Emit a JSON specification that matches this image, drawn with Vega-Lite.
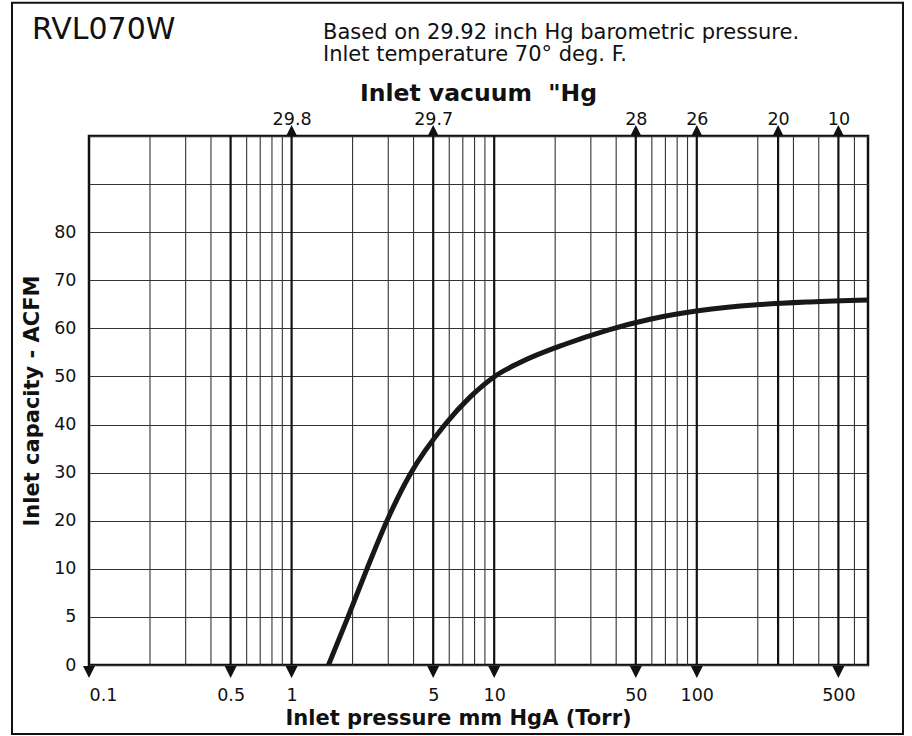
{
  "$schema": "https://vega.github.io/schema/vega-lite/v6.json",
  "width": 779,
  "height": 529,
  "autosize": {"type": "none"},
  "padding": {"left": 89, "top": 136, "right": 44, "bottom": 71},
  "background": "#ffffff",
  "config": {
    "font": "DejaVu Sans",
    "view": {"stroke": "#111111", "strokeWidth": 2.5},
    "axis": {"labelColor": "#111111", "titleColor": "#111111", "labelFontSize": 17.5, "titleFontSize": 21, "titleFontWeight": "bold", "ticks": false, "tickSize": 0, "domain": false, "labelOverlap": false}
  },
  "datasets": {
    "curve": [
      {"torr": 1.521, "acfm": 0},
      {"torr": 1.899, "acfm": 5},
      {"torr": 2.356, "acfm": 10},
      {"torr": 2.957, "acfm": 20},
      {"torr": 3.841, "acfm": 29.6},
      {"torr": 5.719, "acfm": 40},
      {"torr": 7.596, "acfm": 45.7},
      {"torr": 9.978, "acfm": 49.9},
      {"torr": 13.41, "acfm": 52.9},
      {"torr": 22.36, "acfm": 56.7},
      {"torr": 36.05, "acfm": 59.6},
      {"torr": 58.75, "acfm": 61.9},
      {"torr": 103.7, "acfm": 63.7},
      {"torr": 198.3, "acfm": 64.9},
      {"torr": 362.1, "acfm": 65.5},
      {"torr": 700, "acfm": 65.9}
    ],
    "minor": [
      {"torr": 0.2}, {"torr": 0.3}, {"torr": 0.4}, {"torr": 0.6}, {"torr": 0.7}, {"torr": 0.8}, {"torr": 0.9},
      {"torr": 2}, {"torr": 3}, {"torr": 4}, {"torr": 6}, {"torr": 7}, {"torr": 8}, {"torr": 9},
      {"torr": 20}, {"torr": 30}, {"torr": 40}, {"torr": 60}, {"torr": 70}, {"torr": 80}, {"torr": 90},
      {"torr": 200}, {"torr": 300}, {"torr": 400}, {"torr": 600}
    ],
    "major": [
      {"torr": 0.5}, {"torr": 1}, {"torr": 5}, {"torr": 10}, {"torr": 50}, {"torr": 100}, {"torr": 252}, {"torr": 500}
    ],
    "bottomTicks": [
      {"torr": 0.1}, {"torr": 0.5}, {"torr": 1}, {"torr": 5}, {"torr": 10}, {"torr": 50}, {"torr": 100}, {"torr": 500}
    ],
    "topTicks": [
      {"torr": 1, "vacuum": "29.8"},
      {"torr": 5, "vacuum": "29.7"},
      {"torr": 50, "vacuum": "28"},
      {"torr": 100, "vacuum": "26"},
      {"torr": 252, "vacuum": "20"},
      {"torr": 500, "vacuum": "10"}
    ],
    "header": [{"label": "RVL070W"}]
  },
  "layer": [
    {
      "data": {"name": "minor"},
      "mark": {"type": "rule", "stroke": "#333333", "strokeWidth": 1.1},
      "encoding": {
        "x": {"field": "torr", "type": "quantitative", "scale": {"type": "log", "domain": [0.1, 700], "nice": false}, "axis": null}
      }
    },
    {
      "data": {"name": "major"},
      "mark": {"type": "rule", "stroke": "#111111", "strokeWidth": 2.2},
      "encoding": {
        "x": {"field": "torr", "type": "quantitative", "scale": {"type": "log", "domain": [0.1, 700], "nice": false}, "axis": null}
      }
    },
    {
      "data": {"name": "curve"},
      "mark": {"type": "line", "stroke": "#1a1717", "strokeWidth": 5, "interpolate": "monotone", "clip": true},
      "encoding": {
        "x": {
          "field": "torr", "type": "quantitative",
          "scale": {"type": "log", "domain": [0.1, 700], "nice": false},
          "axis": {
            "orient": "bottom", "values": [0.1, 0.5, 1, 5, 10, 50, 100, 500], "format": "~g",
            "grid": false, "labelFlush": true, "labelPadding": 35, "labelBaseline": "alphabetic",
            "title": "Inlet pressure mm HgA (Torr)", "titleX": 369, "titleY": 59, "titleBaseline": "alphabetic", "titleAlign": "center"
          }
        },
        "y": {
          "field": "acfm", "type": "quantitative",
          "scale": {"type": "linear", "domain": [0, 10, 100], "range": [529, 432.8, 0], "nice": false, "zero": false},
          "axis": {
            "orient": "left", "values": [0, 5, 10, 20, 30, 40, 50, 60, 70, 80, 90, 100],
            "labelExpr": "datum.value >= 90 ? '' : datum.label",
            "grid": true, "gridColor": "#333333", "gridWidth": 1.1, "labelPadding": 13,
            "title": "Inlet capacity - ACFM", "titleX": -51, "titleY": 264.5, "titleAngle": -90, "titleBaseline": "alphabetic", "titleAlign": "center"
          }
        }
      }
    },
    {
      "data": {"name": "topTicks"},
      "mark": {"type": "point", "shape": "M-1,1L1,1L0,-1Z", "size": 121, "filled": true, "color": "#111111", "opacity": 1, "strokeWidth": 0},
      "encoding": {
        "x": {
          "field": "torr", "type": "quantitative",
          "scale": {"type": "log", "domain": [0.1, 700], "nice": false},
          "axis": {
            "orient": "top", "values": [1, 5, 50, 100, 252, 500], "grid": false,
            "labelExpr": "datum.value == 1 ? '29.8' : datum.value == 5 ? '29.7' : datum.value == 50 ? '28' : datum.value == 100 ? '26' : datum.value == 252 ? '20' : '10'",
            "labelPadding": 12, "labelBaseline": "alphabetic", "labelFlush": false,
            "title": "Inlet vacuum\u00a0\u00a0\"Hg", "titleFontSize": 23.5, "titleY": -36, "titleBaseline": "alphabetic", "titleAlign": "center", "titleX": 389
          }
        },
        "y": {"datum": 101.14, "type": "quantitative", "scale": {"type": "linear", "domain": [0, 10, 100], "range": [529, 432.8, 0], "nice": false, "zero": false}, "axis": null}
      }
    },
    {
      "data": {"name": "bottomTicks"},
      "mark": {"type": "point", "shape": "M-1,-1L1,-1L0,1Z", "size": 144, "filled": true, "color": "#111111", "opacity": 1, "strokeWidth": 0},
      "encoding": {
        "x": {"field": "torr", "type": "quantitative", "scale": {"type": "log", "domain": [0.1, 700], "nice": false}, "axis": null},
        "y": {"datum": -0.73, "type": "quantitative", "scale": {"type": "linear", "domain": [0, 10, 100], "range": [529, 432.8, 0], "nice": false, "zero": false}, "axis": null}
      }
    },
    {
      "data": {"name": "header"},
      "mark": {"type": "text", "align": "left", "baseline": "alphabetic", "fontSize": 30, "color": "#111111"},
      "encoding": {
        "x": {"datum": 0.05233, "type": "quantitative", "scale": {"type": "log", "domain": [0.1, 700], "nice": false}, "axis": null},
        "y": {"datum": 120.17, "type": "quantitative", "scale": {"type": "linear", "domain": [0, 10, 100], "range": [529, 432.8, 0], "nice": false, "zero": false}, "axis": null},
        "text": {"field": "label"}
      }
    },
    {
      "data": {"name": "header"},
      "mark": {"type": "text", "align": "left", "baseline": "alphabetic", "fontSize": 21, "lineHeight": 22, "color": "#111111"},
      "encoding": {
        "x": {"datum": 1.4289, "type": "quantitative", "scale": {"type": "log", "domain": [0.1, 700], "nice": false}, "axis": null},
        "y": {"datum": 120.17, "type": "quantitative", "scale": {"type": "linear", "domain": [0, 10, 100], "range": [529, 432.8, 0], "nice": false, "zero": false}, "axis": null},
        "text": {"value": ["Based on 29.92 inch Hg barometric pressure.", "Inlet temperature 70° deg. F."]}
      }
    },
    {
      "data": {"name": "header"},
      "mark": {"type": "rect", "fillOpacity": 0, "stroke": "#111111", "strokeWidth": 2},
      "encoding": {
        "x": {"datum": 0.041682, "type": "quantitative", "scale": {"type": "log", "domain": [0.1, 700], "nice": false}, "axis": null},
        "x2": {"datum": 1041.8},
        "y": {"datum": 127.72, "type": "quantitative", "scale": {"type": "linear", "domain": [0, 10, 100], "range": [529, 432.8, 0], "nice": false, "zero": false}, "axis": null},
        "y2": {"datum": -7.17}
      }
    }
  ],
  "resolve": {"axis": {"x": "independent", "y": "independent"}}
}
